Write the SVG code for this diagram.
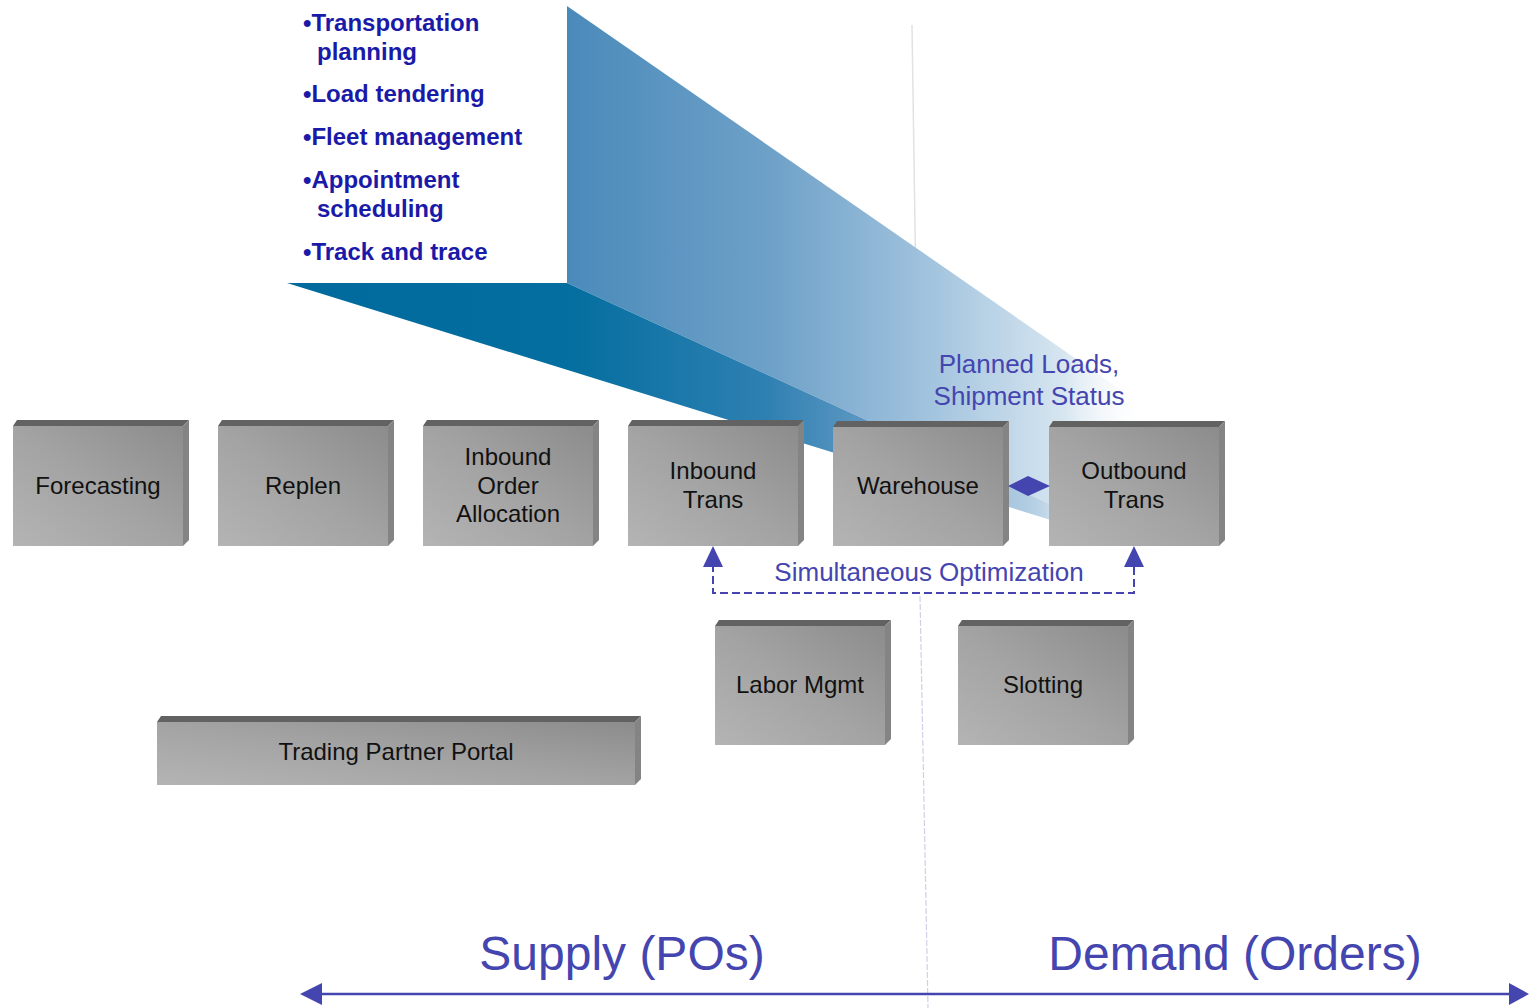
<svg xmlns="http://www.w3.org/2000/svg" width="1529" height="1008" viewBox="0 0 1529 1008">
  <defs>
    <linearGradient id="wallGrad" gradientUnits="userSpaceOnUse" x1="567" y1="0" x2="1150" y2="0">
      <stop offset="0" stop-color="#4a8aba"/>
      <stop offset="0.35" stop-color="#6ea1c8"/>
      <stop offset="0.6" stop-color="#9dc0dc"/>
      <stop offset="0.85" stop-color="#d6e5f0"/>
      <stop offset="1" stop-color="#ffffff" stop-opacity="0"/>
    </linearGradient>
    <linearGradient id="floorGrad" gradientUnits="userSpaceOnUse" x1="287" y1="0" x2="1157" y2="0">
      <stop offset="0" stop-color="#006a9c"/>
      <stop offset="0.32" stop-color="#036e9f"/>
      <stop offset="0.55" stop-color="#2e80b2"/>
      <stop offset="0.7" stop-color="#6c9ec7"/>
      <stop offset="0.86" stop-color="#b6d0e4"/>
      <stop offset="1" stop-color="#ffffff" stop-opacity="0"/>
    </linearGradient>
    <linearGradient id="faceGrad" x1="0" y1="1" x2="1" y2="0">
      <stop offset="0" stop-color="#b4b4b4"/>
      <stop offset="0.5" stop-color="#a3a3a3"/>
      <stop offset="1" stop-color="#8c8c8c"/>
    </linearGradient>
  </defs>
  <style>
    .face { fill: url(#faceGrad); }
    .top { fill: #626262; }
    .side { fill: #848484; }
    .lbl { font-family: "Liberation Sans", Arial, sans-serif; font-size: 24px; fill: #111111; text-anchor: middle; }
    .bullet { font-family: "Liberation Sans", Arial, sans-serif; font-size: 24px; font-weight: bold; fill: #1a1aa8; }
    .note { font-family: "Liberation Sans", Arial, sans-serif; font-size: 26px; fill: #4545b0; text-anchor: middle; }
    .big { font-family: "Liberation Sans", Arial, sans-serif; font-size: 48px; fill: #4545b0; text-anchor: middle; }
    .conn { stroke: #4545b0; fill: none; }
    .arrowhead { fill: #4545b0; }
  </style>

  <rect width="1529" height="1008" fill="#ffffff"/>

  <!-- faint divider -->
  <g id="divider">
    <line x1="912" y1="25" x2="918" y2="427" stroke="#e2e2e2" stroke-width="1.5"/>
    <line x1="920" y1="596" x2="928" y2="1008" stroke="#cfcfe8" stroke-width="1.2" stroke-dasharray="6 2"/>
  </g>

  <!-- beam -->
  <g id="beam">
    <polygon points="567,6 1150,410 1157,553 567,283" fill="url(#wallGrad)"/>
    <polygon points="287,283 567,283 1157,553" fill="url(#floorGrad)"/>
  </g>

  <!-- bullets -->
  <g id="bullets">
    <text class="bullet" x="303" y="31">•Transportation</text>
    <text class="bullet" x="317" y="60">planning</text>
    <text class="bullet" x="303" y="102">•Load tendering</text>
    <text class="bullet" x="303" y="145">•Fleet management</text>
    <text class="bullet" x="303" y="188">•Appointment</text>
    <text class="bullet" x="317" y="217">scheduling</text>
    <text class="bullet" x="303" y="260">•Track and trace</text>
  </g>

  <!-- nodes -->
  <g id="forecasting">
    <polygon class="top" points="13,426 17,420 189,420 183,426"/>
    <polygon class="side" points="183,426 189,420 189,540 183,546"/>
    <rect class="face" x="13" y="426" width="170" height="120"/>
    <text class="lbl" x="98" y="494">Forecasting</text>
  </g>
  <g id="replen">
    <polygon class="top" points="218,426 222,420 394,420 388,426"/>
    <polygon class="side" points="388,426 394,420 394,540 388,546"/>
    <rect class="face" x="218" y="426" width="170" height="120"/>
    <text class="lbl" x="303" y="494">Replen</text>
  </g>
  <g id="inbound-order-allocation">
    <polygon class="top" points="423,426 427,420 599,420 593,426"/>
    <polygon class="side" points="593,426 599,420 599,540 593,546"/>
    <rect class="face" x="423" y="426" width="170" height="120"/>
    <text class="lbl" x="508" y="465">Inbound</text>
    <text class="lbl" x="508" y="494">Order</text>
    <text class="lbl" x="508" y="522">Allocation</text>
  </g>
  <g id="inbound-trans">
    <polygon class="top" points="628,426 632,420 804,420 798,426"/>
    <polygon class="side" points="798,426 804,420 804,540 798,546"/>
    <rect class="face" x="628" y="426" width="170" height="120"/>
    <text class="lbl" x="713" y="479">Inbound</text>
    <text class="lbl" x="713" y="508">Trans</text>
  </g>
  <g id="warehouse">
    <polygon class="top" points="833,427 837,421 1009,421 1003,427"/>
    <polygon class="side" points="1003,427 1009,421 1009,540 1003,546"/>
    <rect class="face" x="833" y="427" width="170" height="119"/>
    <text class="lbl" x="918" y="494">Warehouse</text>
  </g>
  <g id="outbound-trans">
    <polygon class="top" points="1049,427 1053,421 1225,421 1219,427"/>
    <polygon class="side" points="1219,427 1225,421 1225,540 1219,546"/>
    <rect class="face" x="1049" y="427" width="170" height="119"/>
    <text class="lbl" x="1134" y="479">Outbound</text>
    <text class="lbl" x="1134" y="508">Trans</text>
  </g>
  <g id="labor-mgmt">
    <polygon class="top" points="715,626 719,620 891,620 885,626"/>
    <polygon class="side" points="885,626 891,620 891,739 885,745"/>
    <rect class="face" x="715" y="626" width="170" height="119"/>
    <text class="lbl" x="800" y="693">Labor Mgmt</text>
  </g>
  <g id="slotting">
    <polygon class="top" points="958,626 962,620 1134,620 1128,626"/>
    <polygon class="side" points="1128,626 1134,620 1134,739 1128,745"/>
    <rect class="face" x="958" y="626" width="170" height="119"/>
    <text class="lbl" x="1043" y="693">Slotting</text>
  </g>
  <g id="trading-partner-portal">
    <polygon class="top" points="157,722 161,716 641,716 635,722"/>
    <polygon class="side" points="635,722 641,716 641,779 635,785"/>
    <rect class="face" x="157" y="722" width="478" height="63"/>
    <text class="lbl" x="396" y="760">Trading Partner Portal</text>
  </g>

  <!-- connectors -->
  <g id="connectors">
    <polygon class="arrowhead" points="1008,486 1028,476 1050,486 1028,496"/>
    <polyline class="conn" stroke-width="2" stroke-dasharray="8 4" points="713,564 713,593 1134,593 1134,564"/>
    <polygon class="arrowhead" points="713,546 703,567 723,567"/>
    <polygon class="arrowhead" points="1134,546 1124,567 1144,567"/>
    <line class="conn" x1="318" y1="994" x2="1512" y2="994" stroke-width="2.5"/>
    <polygon class="arrowhead" points="300,994 322,983 322,1005"/>
    <polygon class="arrowhead" points="1529,994 1509,983 1509,1005"/>
  </g>

  <!-- labels -->
  <g id="labels">
    <text class="note" x="1029" y="373">Planned Loads,</text>
    <text class="note" x="1029" y="405">Shipment Status</text>
    <text class="note" x="929" y="581">Simultaneous Optimization</text>
    <text class="big" x="622" y="970">Supply (POs)</text>
    <text class="big" x="1235" y="970">Demand (Orders)</text>
  </g>
</svg>
